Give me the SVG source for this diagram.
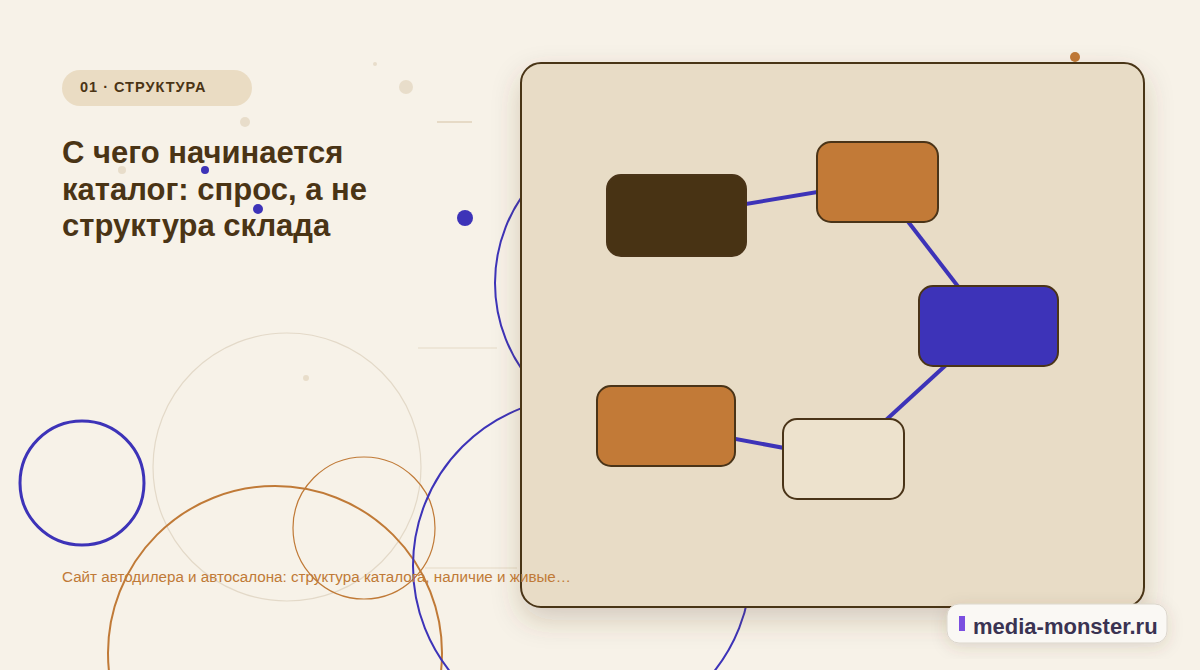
<svg xmlns="http://www.w3.org/2000/svg" width="1200" height="670" viewBox="0 0 1200 670">
<defs>
<filter id="shadow" x="-20%" y="-20%" width="140%" height="140%">
<feDropShadow dx="0" dy="12" stdDeviation="14" flood-color="#5a4020" flood-opacity="0.22"/>
</filter>
<filter id="wshadow" x="-20%" y="-40%" width="140%" height="180%">
<feDropShadow dx="0" dy="4" stdDeviation="8" flood-color="#5a4020" flood-opacity="0.15"/>
</filter>
<style>
.deco-beige{fill:#e8ddca}
.deco-blue{fill:#3d33b8}
.ring{fill:none}
.node{stroke:#4a3418;stroke-width:2}
.edge{stroke:#3d33b8;stroke-width:4;fill:none}
.title{font-family:"Liberation Sans",Arial,sans-serif;font-weight:700;font-size:31px;fill:#4a3415}
</style>
</defs>
<rect width="1200" height="670" fill="#f7f2e8"/>

<g id="decorations">
<circle cx="287" cy="467" r="134" class="ring" stroke="#e3d9c8" stroke-width="1.2"/>
<circle cx="82" cy="483" r="62" class="ring" stroke="#3d33b8" stroke-width="3"/>
<circle cx="364" cy="528" r="71" class="ring" stroke="#c07a37" stroke-width="1.2"/>
<circle cx="275" cy="653" r="167" class="ring" stroke="#c07a37" stroke-width="2"/>
<circle cx="582" cy="566" r="169" class="ring" stroke="#3d33b8" stroke-width="2"/>
<circle cx="647" cy="283" r="152" class="ring" stroke="#3d33b8" stroke-width="2"/>
<line x1="437" y1="122" x2="472" y2="122" stroke="#e6dac6" stroke-width="2"/>
<line x1="418" y1="348" x2="497" y2="348" stroke="#e6dac6" stroke-width="1.2"/>
<line x1="425" y1="568" x2="517" y2="568" stroke="#e6dac6" stroke-width="1.2"/>
<circle cx="406" cy="87" r="7" class="deco-beige"/>
<circle cx="245" cy="122" r="5" class="deco-beige"/>
<circle cx="122" cy="170" r="4" class="deco-beige"/>
<circle cx="375" cy="64" r="2" class="deco-beige"/>
<circle cx="306" cy="378" r="3" class="deco-beige"/>
<circle cx="205" cy="170" r="4" class="deco-blue"/>
<circle cx="258" cy="209" r="5" class="deco-blue"/>
<circle cx="465" cy="218" r="8" class="deco-blue"/>
<circle cx="1075" cy="57" r="5" fill="#c07a37"/>
</g>

<g id="badge">
<rect x="62" y="70" width="190" height="36" rx="18" fill="#eadcc3"/>
<text x="80" y="92" font-family="Liberation Sans, Arial, sans-serif" font-weight="700" font-size="14.5" letter-spacing="1" fill="#4a3415">01 · СТРУКТУРА</text>
</g>

<g id="title">
<text class="title" x="62" y="163">С чего начинается</text>
<text class="title" x="62" y="199.5">каталог: спрос, а не</text>
<text class="title" x="62" y="236">структура склада</text>
</g>

<g id="panel">
<rect x="521" y="63" width="623" height="544" rx="20" fill="#e8dcc6" stroke="#4a3418" stroke-width="2" filter="url(#shadow)"/>
</g>

<g id="connectors">
<line class="edge" x1="676.5" y1="215.5" x2="877.5" y2="182"/>
<line class="edge" x1="877.5" y1="182" x2="988.5" y2="326"/>
<line class="edge" x1="988.5" y1="326" x2="843.5" y2="459"/>
<line class="edge" x1="843.5" y1="459" x2="666" y2="426"/>
</g>

<g id="node-1"><rect class="node" x="607" y="175" width="139" height="81" rx="14" fill="#483314"/></g>
<g id="node-2"><rect class="node" x="817" y="142" width="121" height="80" rx="14" fill="#c27a37"/></g>
<g id="node-3"><rect class="node" x="919" y="286" width="139" height="80" rx="14" fill="#3d33b8"/></g>
<g id="node-4"><rect class="node" x="783" y="419" width="121" height="80" rx="14" fill="#ede2cd"/></g>
<g id="node-5"><rect class="node" x="597" y="386" width="138" height="80" rx="14" fill="#c27a37"/></g>

<g id="caption">
<text x="62" y="582" font-family="Liberation Sans, Arial, sans-serif" font-size="15.2" fill="#c07a37">Сайт автодилера и автосалона: структура каталога, наличие и живые…</text>
</g>

<g id="watermark">
<rect x="947" y="604" width="220" height="39" rx="12" fill="#faf8f4" stroke="#dcd6cc" stroke-width="1" filter="url(#wshadow)"/>
<rect x="959" y="616" width="6" height="15" fill="#7b4fe0"/>
<text x="973" y="634" font-family="Liberation Sans, Arial, sans-serif" font-weight="700" font-size="22" fill="#3a3352">media-monster.ru</text>
</g>
</svg>
